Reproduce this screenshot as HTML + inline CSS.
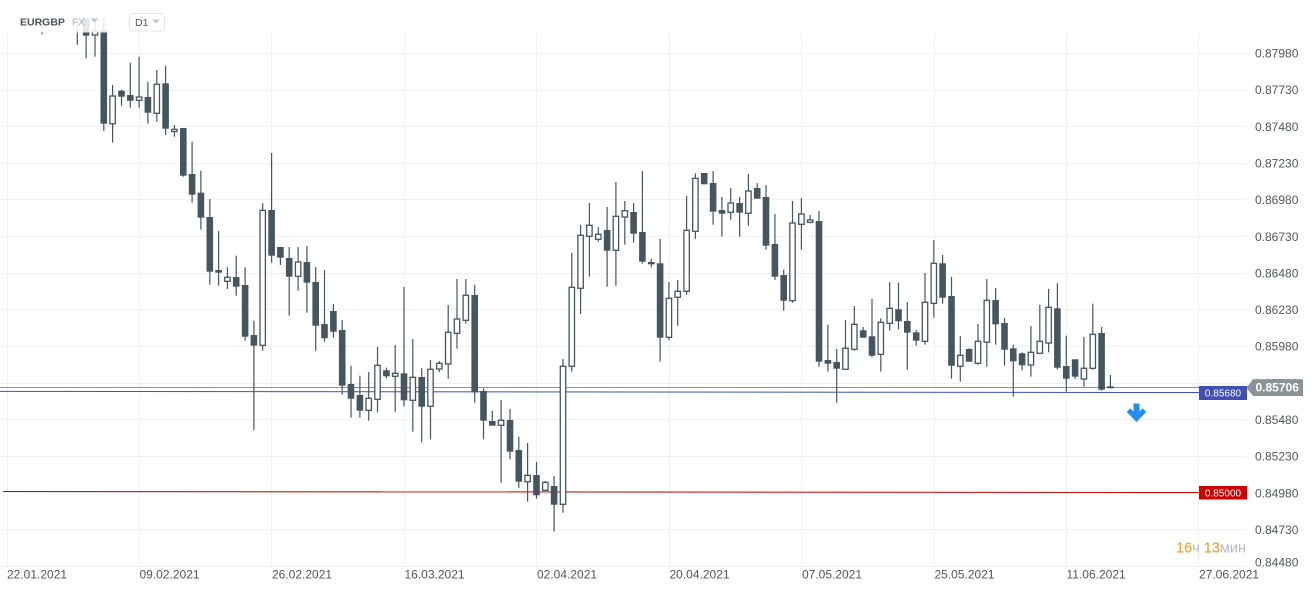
<!DOCTYPE html>
<html><head><meta charset="utf-8"><style>
html,body{margin:0;padding:0;background:#fff;}
svg{display:block;font-family:"Liberation Sans","Noto Sans CJK JP",sans-serif;}
.g line{stroke:#eff1f3;stroke-width:1;}
.c line{stroke:#455661;stroke-width:1.2;}
.c rect{fill:#455661;}
.c rect.h{fill:#fff;stroke:#455661;stroke-width:1.3;}
.pl{font-size:12px;fill:#50575d;}
.dl{font-size:12px;fill:#50575d;}
</style></head><body>
<svg width="1315" height="592" viewBox="0 0 1315 592" xmlns="http://www.w3.org/2000/svg">
<rect width="1315" height="592" fill="#fff"/>
<g class="g">
<line x1="0" y1="53.5" x2="1247" y2="53.5"/>
<line x1="0" y1="90.5" x2="1247" y2="90.5"/>
<line x1="0" y1="126.5" x2="1247" y2="126.5"/>
<line x1="0" y1="163.5" x2="1247" y2="163.5"/>
<line x1="0" y1="199.5" x2="1247" y2="199.5"/>
<line x1="0" y1="236.5" x2="1247" y2="236.5"/>
<line x1="0" y1="273.5" x2="1247" y2="273.5"/>
<line x1="0" y1="309.5" x2="1247" y2="309.5"/>
<line x1="0" y1="346.5" x2="1247" y2="346.5"/>
<line x1="0" y1="383.5" x2="1247" y2="383.5"/>
<line x1="0" y1="419.5" x2="1247" y2="419.5"/>
<line x1="0" y1="456.5" x2="1247" y2="456.5"/>
<line x1="0" y1="492.5" x2="1247" y2="492.5"/>
<line x1="0" y1="529.5" x2="1247" y2="529.5"/>
<line x1="0" y1="566.5" x2="1247" y2="566.5"/>
<line x1="7.5" y1="0" x2="7.5" y2="566"/>
<line x1="139.5" y1="0" x2="139.5" y2="566"/>
<line x1="271.5" y1="0" x2="271.5" y2="566"/>
<line x1="404.5" y1="0" x2="404.5" y2="566"/>
<line x1="536.5" y1="0" x2="536.5" y2="566"/>
<line x1="669.5" y1="0" x2="669.5" y2="566"/>
<line x1="801.5" y1="0" x2="801.5" y2="566"/>
<line x1="934.5" y1="0" x2="934.5" y2="566"/>
<line x1="1066.5" y1="0" x2="1066.5" y2="566"/>
<line x1="1198.5" y1="0" x2="1198.5" y2="566"/>
</g>
<!-- horizontal lines -->
<line x1="0" y1="387.5" x2="1248" y2="387.5" stroke="#8b9396" stroke-width="1"/>
<line x1="0" y1="391.4" x2="1199" y2="392.5" stroke="#3f51b5" stroke-width="1"/>
<line x1="3" y1="491.5" x2="1199" y2="492.5" stroke="#d40000" stroke-width="1"/>
<g class="c">
<line x1="42" y1="20" x2="42" y2="34.3"/>
<line x1="77.3" y1="20" x2="77.3" y2="45"/>
<line x1="86.1" y1="18" x2="86.1" y2="58.3"/><rect x="82.8" y="18" width="6.6" height="17.7"/>
<line x1="95" y1="20" x2="95" y2="56.7"/><rect class="h" x="92.3" y="31" width="5.4" height="4"/>
<line x1="103.8" y1="18" x2="103.8" y2="131"/><rect x="100.5" y="30" width="6.6" height="93.7"/>
<line x1="112.6" y1="85" x2="112.6" y2="142.7"/><rect class="h" x="109.9" y="96" width="5.4" height="27.7"/>
<line x1="121.5" y1="90" x2="121.5" y2="105.7"/><rect x="118.2" y="90.7" width="6.6" height="6"/>
<line x1="130.3" y1="62.7" x2="130.3" y2="107.7"/><rect x="127" y="95" width="6.6" height="5.7"/>
<line x1="139.1" y1="56.7" x2="139.1" y2="107.7"/><rect class="h" x="136.4" y="97" width="5.4" height="3.3"/>
<line x1="147.9" y1="81.7" x2="147.9" y2="123.7"/><rect x="144.6" y="97" width="6.6" height="15.7"/>
<line x1="156.8" y1="70" x2="156.8" y2="121.7"/><rect class="h" x="154.1" y="84.3" width="5.4" height="29"/>
<line x1="165.6" y1="65.7" x2="165.6" y2="135"/><rect x="162.3" y="83.3" width="6.6" height="45.4"/>
<line x1="174.4" y1="125" x2="174.4" y2="136.7"/><rect class="h" x="171.7" y="129.3" width="5.4" height="2.2"/>
<line x1="183.3" y1="128" x2="183.3" y2="176.7"/><rect x="180" y="128" width="6.6" height="47.7"/>
<line x1="192.1" y1="141.7" x2="192.1" y2="202.7"/><rect x="188.8" y="174" width="6.6" height="20.7"/>
<line x1="200.9" y1="170.7" x2="200.9" y2="229.7"/><rect x="197.6" y="192.7" width="6.6" height="25"/>
<line x1="209.8" y1="199" x2="209.8" y2="284.7"/><rect x="206.5" y="217" width="6.6" height="54.7"/>
<line x1="218.6" y1="231" x2="218.6" y2="285.7"/><rect x="215.3" y="270" width="6.6" height="2.7"/>
<line x1="227.4" y1="267.3" x2="227.4" y2="289"/><rect class="h" x="224.7" y="277.3" width="5.4" height="4"/>
<line x1="236.2" y1="255.7" x2="236.2" y2="295.7"/><rect x="232.9" y="277" width="6.6" height="9.7"/>
<line x1="245.1" y1="267.3" x2="245.1" y2="340.7"/><rect x="241.8" y="285" width="6.6" height="51.7"/>
<line x1="253.9" y1="320.7" x2="253.9" y2="430.3"/><rect x="250.6" y="335" width="6.6" height="10.7"/>
<line x1="262.7" y1="203.3" x2="262.7" y2="350.7"/><rect class="h" x="260" y="210.3" width="5.4" height="135"/>
<line x1="271.6" y1="153" x2="271.6" y2="262.7"/><rect x="268.3" y="210" width="6.6" height="45.7"/>
<line x1="280.4" y1="247" x2="280.4" y2="265"/><rect x="277.1" y="247" width="6.6" height="10.7"/>
<line x1="289.2" y1="247" x2="289.2" y2="315.7"/><rect x="285.9" y="258" width="6.6" height="18.7"/>
<line x1="298.1" y1="247" x2="298.1" y2="290.7"/><rect class="h" x="295.4" y="262" width="5.4" height="14.3"/>
<line x1="306.9" y1="246" x2="306.9" y2="312.7"/><rect x="303.6" y="262" width="6.6" height="20.7"/>
<line x1="315.7" y1="267" x2="315.7" y2="350.7"/><rect x="312.4" y="282" width="6.6" height="43.7"/>
<line x1="324.5" y1="270" x2="324.5" y2="341.7"/><rect x="321.2" y="324" width="6.6" height="14.3"/>
<line x1="333.4" y1="304" x2="333.4" y2="337.7"/><rect x="330.1" y="311" width="6.6" height="20.7"/>
<line x1="342.2" y1="320" x2="342.2" y2="394.7"/><rect x="338.9" y="330" width="6.6" height="55.7"/>
<line x1="351" y1="365.7" x2="351" y2="417.7"/><rect x="347.7" y="384" width="6.6" height="14.7"/>
<line x1="359.9" y1="375.7" x2="359.9" y2="417.7"/><rect x="356.6" y="395" width="6.6" height="15.7"/>
<line x1="368.7" y1="372" x2="368.7" y2="420.7"/><rect class="h" x="366" y="398.3" width="5.4" height="12"/>
<line x1="377.5" y1="347" x2="377.5" y2="412.3"/><rect class="h" x="374.8" y="365.3" width="5.4" height="34"/>
<line x1="386.4" y1="367.7" x2="386.4" y2="378.3"/><rect x="383.1" y="370.3" width="6.6" height="6"/>
<line x1="395.2" y1="345" x2="395.2" y2="411.7"/><rect class="h" x="392.5" y="373.3" width="5.4" height="3"/>
<line x1="404" y1="287" x2="404" y2="406.3"/><rect x="400.7" y="373.3" width="6.6" height="27"/>
<line x1="412.8" y1="339" x2="412.8" y2="431.7"/><rect class="h" x="410.1" y="377.3" width="5.4" height="23"/>
<line x1="421.7" y1="368.3" x2="421.7" y2="442.3"/><rect x="418.4" y="377" width="6.6" height="29.7"/>
<line x1="430.5" y1="360" x2="430.5" y2="439.3"/><rect class="h" x="427.8" y="369.3" width="5.4" height="37"/>
<line x1="439.3" y1="361" x2="439.3" y2="372.3"/><rect class="h" x="436.6" y="363.3" width="5.4" height="5.7"/>
<line x1="448.2" y1="305" x2="448.2" y2="378.7"/><rect class="h" x="445.5" y="332.3" width="5.4" height="31.7"/>
<line x1="457" y1="279" x2="457" y2="348.7"/><rect class="h" x="454.3" y="319" width="5.4" height="14.3"/>
<line x1="465.8" y1="279" x2="465.8" y2="323.7"/><rect class="h" x="463.1" y="295.3" width="5.4" height="25"/>
<line x1="474.7" y1="285" x2="474.7" y2="402.7"/><rect x="471.4" y="295" width="6.6" height="97.3"/>
<line x1="483.5" y1="388.3" x2="483.5" y2="439.3"/><rect x="480.2" y="391" width="6.6" height="29.7"/>
<line x1="492.3" y1="410.7" x2="492.3" y2="425.7"/><rect x="489" y="421" width="6.6" height="4.7"/>
<line x1="501.1" y1="400" x2="501.1" y2="482.7"/><rect class="h" x="498.4" y="420.3" width="5.4" height="5"/>
<line x1="510" y1="409" x2="510" y2="459.3"/><rect x="506.7" y="420" width="6.6" height="31.7"/>
<line x1="518.8" y1="436.7" x2="518.8" y2="487.7"/><rect x="515.5" y="450" width="6.6" height="31.7"/>
<line x1="527.6" y1="443" x2="527.6" y2="501.7"/><rect class="h" x="524.9" y="475.3" width="5.4" height="6.4"/>
<line x1="536.5" y1="462" x2="536.5" y2="498.7"/><rect x="533.2" y="475" width="6.6" height="20.3"/>
<line x1="545.3" y1="481" x2="545.3" y2="490.3"/><rect class="h" x="542.6" y="482.3" width="5.4" height="8"/>
<line x1="554.1" y1="476" x2="554.1" y2="531.7"/><rect x="550.8" y="486" width="6.6" height="18.7"/>
<line x1="563" y1="359" x2="563" y2="512.7"/><rect class="h" x="560.3" y="366.3" width="5.4" height="138"/>
<line x1="571.8" y1="253" x2="571.8" y2="371.7"/><rect class="h" x="569.1" y="287.3" width="5.4" height="79"/>
<line x1="580.6" y1="225" x2="580.6" y2="314"/><rect class="h" x="577.9" y="235.3" width="5.4" height="53"/>
<line x1="589.4" y1="203" x2="589.4" y2="276.7"/><rect class="h" x="586.7" y="225.3" width="5.4" height="11"/>
<line x1="598.3" y1="227" x2="598.3" y2="241.7"/><rect class="h" x="595.6" y="234.3" width="5.4" height="5"/>
<line x1="607.1" y1="207" x2="607.1" y2="286.7"/><rect x="603.8" y="230" width="6.6" height="20.7"/>
<line x1="615.9" y1="182" x2="615.9" y2="285.7"/><rect class="h" x="613.2" y="216.3" width="5.4" height="34"/>
<line x1="624.8" y1="201" x2="624.8" y2="244.7"/><rect class="h" x="622.1" y="210.7" width="5.4" height="6.3"/>
<line x1="633.6" y1="203" x2="633.6" y2="242.7"/><rect x="630.3" y="212" width="6.6" height="21.7"/>
<line x1="642.4" y1="171" x2="642.4" y2="263.7"/><rect x="639.1" y="232" width="6.6" height="29.7"/>
<line x1="651.3" y1="259" x2="651.3" y2="267.3"/><rect x="648" y="262" width="6.6" height="2.3"/>
<line x1="660.1" y1="239" x2="660.1" y2="361.7"/><rect x="656.8" y="263.3" width="6.6" height="74.4"/>
<line x1="668.9" y1="282" x2="668.9" y2="340.3"/><rect class="h" x="666.2" y="298.3" width="5.4" height="39"/>
<line x1="677.7" y1="280" x2="677.7" y2="325.7"/><rect class="h" x="675" y="291.3" width="5.4" height="6"/>
<line x1="686.6" y1="196" x2="686.6" y2="294.7"/><rect class="h" x="683.9" y="230.3" width="5.4" height="61"/>
<line x1="695.4" y1="173.3" x2="695.4" y2="238.7"/><rect class="h" x="692.7" y="178.3" width="5.4" height="53"/>
<line x1="704.2" y1="173" x2="704.2" y2="184.3"/><rect x="700.9" y="173" width="6.6" height="11.3"/>
<line x1="713.1" y1="171" x2="713.1" y2="224.7"/><rect x="709.8" y="183" width="6.6" height="28.7"/>
<line x1="721.9" y1="197" x2="721.9" y2="236.7"/><rect x="718.6" y="210" width="6.6" height="3.7"/>
<line x1="730.7" y1="188" x2="730.7" y2="219.7"/><rect class="h" x="728" y="203" width="5.4" height="9.3"/>
<line x1="739.6" y1="197" x2="739.6" y2="236.7"/><rect x="736.3" y="203" width="6.6" height="9.7"/>
<line x1="748.4" y1="174" x2="748.4" y2="225.7"/><rect class="h" x="745.7" y="191" width="5.4" height="22.3"/>
<line x1="757.2" y1="183" x2="757.2" y2="198.7"/><rect x="753.9" y="188" width="6.6" height="10.7"/>
<line x1="766" y1="185" x2="766" y2="249.7"/><rect x="762.7" y="197" width="6.6" height="48.7"/>
<line x1="774.9" y1="214" x2="774.9" y2="280"/><rect x="771.6" y="244" width="6.6" height="32.7"/>
<line x1="783.7" y1="269.7" x2="783.7" y2="310.7"/><rect x="780.4" y="275" width="6.6" height="25.7"/>
<line x1="792.5" y1="201" x2="792.5" y2="302.7"/><rect class="h" x="789.8" y="223" width="5.4" height="77.7"/>
<line x1="801.4" y1="198" x2="801.4" y2="249.7"/><rect class="h" x="798.7" y="214" width="5.4" height="10.3"/>
<line x1="810.2" y1="215" x2="810.2" y2="223.3"/><rect class="h" x="807.5" y="220" width="5.4" height="2.3"/>
<line x1="819" y1="211" x2="819" y2="366.7"/><rect x="815.7" y="221" width="6.6" height="140.7"/>
<line x1="827.9" y1="324.7" x2="827.9" y2="371.7"/><rect x="824.6" y="360" width="6.6" height="3.7"/>
<line x1="836.7" y1="349" x2="836.7" y2="402.7"/><rect x="833.4" y="362" width="6.6" height="6.7"/>
<line x1="845.5" y1="320" x2="845.5" y2="369.7"/><rect class="h" x="842.8" y="348.3" width="5.4" height="21"/>
<line x1="854.3" y1="306" x2="854.3" y2="350.7"/><rect class="h" x="851.6" y="324.3" width="5.4" height="25"/>
<line x1="863.2" y1="327" x2="863.2" y2="337.7"/><rect x="859.9" y="330.3" width="6.6" height="7.4"/>
<line x1="872" y1="299" x2="872" y2="357.3"/><rect x="868.7" y="336.3" width="6.6" height="19.4"/>
<line x1="880.8" y1="318.3" x2="880.8" y2="371.7"/><rect class="h" x="878.1" y="322.3" width="5.4" height="32"/>
<line x1="889.7" y1="282" x2="889.7" y2="330.7"/><rect class="h" x="887" y="308.3" width="5.4" height="15"/>
<line x1="898.5" y1="282.7" x2="898.5" y2="329.3"/><rect x="895.2" y="309.3" width="6.6" height="12"/>
<line x1="907.3" y1="302" x2="907.3" y2="369.7"/><rect x="904" y="321" width="6.6" height="11.7"/>
<line x1="916.2" y1="330" x2="916.2" y2="345.7"/><rect x="912.9" y="332.3" width="6.6" height="8.4"/>
<line x1="925" y1="273" x2="925" y2="344.7"/><rect class="h" x="922.3" y="302.3" width="5.4" height="39"/>
<line x1="933.8" y1="240" x2="933.8" y2="317.7"/><rect class="h" x="931.1" y="263.3" width="5.4" height="40"/>
<line x1="942.6" y1="255" x2="942.6" y2="303.7"/><rect x="939.3" y="263.3" width="6.6" height="34.4"/>
<line x1="951.5" y1="277" x2="951.5" y2="378.7"/><rect x="948.2" y="296" width="6.6" height="69.7"/>
<line x1="960.3" y1="336" x2="960.3" y2="381.7"/><rect class="h" x="957.6" y="355.3" width="5.4" height="11"/>
<line x1="969.1" y1="348.3" x2="969.1" y2="361.7"/><rect x="965.8" y="349" width="6.6" height="12.7"/>
<line x1="978" y1="324" x2="978" y2="364.7"/><rect class="h" x="975.3" y="341.3" width="5.4" height="22"/>
<line x1="986.8" y1="279" x2="986.8" y2="366.7"/><rect class="h" x="984.1" y="300.3" width="5.4" height="42"/>
<line x1="995.6" y1="288" x2="995.6" y2="344.7"/><rect x="992.3" y="300" width="6.6" height="24.3"/>
<line x1="1004.5" y1="318" x2="1004.5" y2="365.7"/><rect x="1001.2" y="323" width="6.6" height="26.7"/>
<line x1="1013.3" y1="345" x2="1013.3" y2="396.7"/><rect x="1010" y="348.3" width="6.6" height="13"/>
<line x1="1022.1" y1="352.3" x2="1022.1" y2="370.3"/><rect x="1018.8" y="353.3" width="6.6" height="12"/>
<line x1="1030.9" y1="326" x2="1030.9" y2="376.7"/><rect class="h" x="1028.2" y="352.3" width="5.4" height="12.7"/>
<line x1="1039.8" y1="304.7" x2="1039.8" y2="353.3"/><rect class="h" x="1037.1" y="341.3" width="5.4" height="12"/>
<line x1="1048.6" y1="289" x2="1048.6" y2="352.3"/><rect class="h" x="1045.9" y="307.3" width="5.4" height="35.7"/>
<line x1="1057.4" y1="283.3" x2="1057.4" y2="369.3"/><rect x="1054.1" y="308.3" width="6.6" height="59.4"/>
<line x1="1066.3" y1="335.7" x2="1066.3" y2="391.7"/><rect x="1063" y="366" width="6.6" height="12.7"/>
<line x1="1075.1" y1="359.3" x2="1075.1" y2="379"/><rect x="1071.8" y="359.3" width="6.6" height="17.4"/>
<line x1="1083.9" y1="337" x2="1083.9" y2="386.7"/><rect class="h" x="1081.2" y="368.3" width="5.4" height="10.7"/>
<line x1="1092.8" y1="303.7" x2="1092.8" y2="369.7"/><rect class="h" x="1090.1" y="334.3" width="5.4" height="34"/>
<line x1="1101.6" y1="327" x2="1101.6" y2="390.7"/><rect x="1098.3" y="333" width="6.6" height="56.7"/>
<line x1="1110.4" y1="375" x2="1110.4" y2="388.3"/><rect x="1107.1" y="386.3" width="6.6" height="2"/>
</g>
<!-- header overlay -->
<rect x="0" y="0" width="1247" height="32.5" fill="#fff" fill-opacity="0.86"/>
<text x="20" y="25.5" font-size="10.5" font-weight="bold" fill="#4a535b">EURGBP</text>
<text x="72" y="25.5" font-size="10" fill="#a3adb6">FX</text>
<polygon points="90.5,18.5 98.5,18.5 94.5,22.5" fill="#bcc3c9"/>
<rect x="129.5" y="13.5" width="35" height="17.5" rx="3" ry="3" fill="#fff" stroke="#e2e5e8" stroke-width="1"/>
<text x="135" y="26" font-size="10.5" fill="#555d64">D1</text>
<polygon points="152,19.5 160,19.5 156,23.5" fill="#c3c8cd"/>
<!-- price axis labels -->
<g class="pl">
<text x="1255" y="57.5">0.87980</text>
<text x="1255" y="94.2">0.87730</text>
<text x="1255" y="130.8">0.87480</text>
<text x="1255" y="167.5">0.87230</text>
<text x="1255" y="204.1">0.86980</text>
<text x="1255" y="240.8">0.86730</text>
<text x="1255" y="277.4">0.86480</text>
<text x="1255" y="314.1">0.86230</text>
<text x="1255" y="350.7">0.85980</text>
<text x="1255" y="387.4">0.85730</text>
<text x="1255" y="424">0.85480</text>
<text x="1255" y="460.7">0.85230</text>
<text x="1255" y="497.3">0.84980</text>
<text x="1255" y="534">0.84730</text>
<text x="1255" y="566.3">0.84480</text>
</g>
<!-- date labels -->
<g class="dl">
<text x="7" y="578.5">22.01.2021</text>
<text x="139.5" y="578.5">09.02.2021</text>
<text x="272" y="578.5">26.02.2021</text>
<text x="404.5" y="578.5">16.03.2021</text>
<text x="537" y="578.5">02.04.2021</text>
<text x="669.5" y="578.5">20.04.2021</text>
<text x="802" y="578.5">07.05.2021</text>
<text x="934.5" y="578.5">25.05.2021</text>
<text x="1066.5" y="578.5">11.06.2021</text>
<text x="1199" y="578.5">27.06.2021</text>
</g>
<!-- price tags -->
<polygon points="1246.5,387.7 1253,379.3 1303,379.3 1303,396 1253,396" fill="#8a9497"/>
<text x="1255.5" y="391.7" font-size="12" font-weight="bold" fill="#fff">0.85706</text>
<rect x="1199" y="386" width="48" height="14" fill="#3f4fb3"/>
<text x="1223" y="396.5" font-size="10" fill="#fff" text-anchor="middle">0.85680</text>
<rect x="1199" y="486" width="48" height="13.5" fill="#cc0000"/>
<text x="1223" y="496.3" font-size="10" fill="#fff" text-anchor="middle">0.85000</text>
<!-- arrow -->
<rect x="1133.5" y="403.5" width="6" height="11" fill="#1f8ff0"/>
<polyline points="1128.5,410 1136.5,418.5 1144.5,410" fill="none" stroke="#1f8ff0" stroke-width="5" stroke-linejoin="miter"/>
<!-- timer -->
<text x="1246" y="552.5" font-size="14.5" text-anchor="end"><tspan fill="#f7941d">16</tspan><tspan fill="#b8bcc0">ч </tspan><tspan fill="#f7941d">13</tspan><tspan fill="#b8bcc0">мин</tspan></text>
</svg>
</body></html>
